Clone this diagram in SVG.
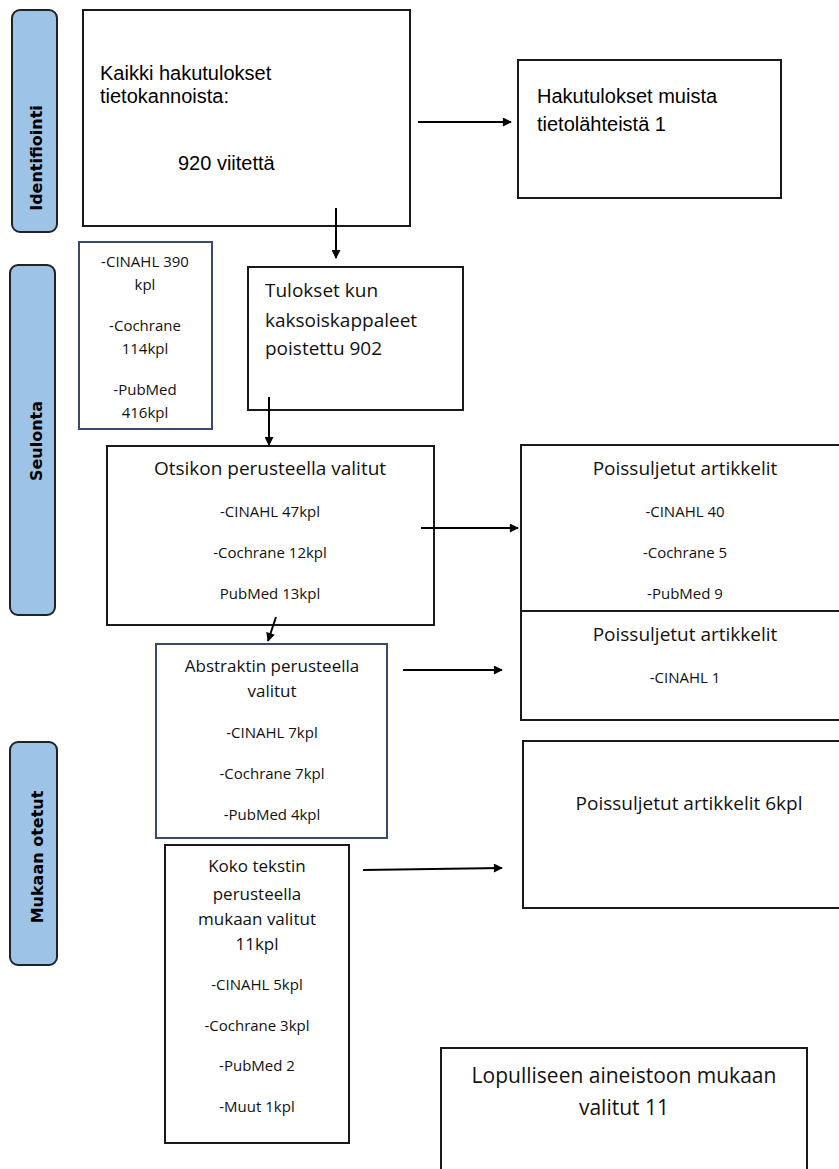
<svg xmlns="http://www.w3.org/2000/svg" width="839" height="1169" viewBox="0 0 839 1169">
<defs>
<marker id="ah" viewBox="0 0 10 10" refX="9" refY="5" markerWidth="5" markerHeight="4.5" orient="auto" markerUnits="strokeWidth"><path d="M0,0 L10,5 L0,10 z" fill="#000"/></marker>
<style>
.box{fill:#fff;stroke:#1a1a1a;stroke-width:2}
.bbox{fill:#fff;stroke:#3b4a66;stroke-width:2}
.lab{fill:#9dc3e6;stroke:#222;stroke-width:2}
.lt{font-family:"DejaVu Sans",sans-serif;font-weight:bold;font-size:16px;fill:#000;text-anchor:middle}
.ar{font-family:"Liberation Sans",Arial,sans-serif;font-size:20px;fill:#000}
.c{font-family:"Open Sans","Noto Sans",sans-serif;fill:#111;text-anchor:middle}
.cl{font-family:"Open Sans","Noto Sans",sans-serif;fill:#111}
.conn{stroke:#000;stroke-width:2;fill:none;marker-end:url(#ah)}
</style>
</defs>
<rect width="839" height="1169" fill="#fff"/>
<g id="label-identifiointi">
<rect class="lab" x="12" y="10" width="45" height="222" rx="8"/>
<text class="lt" transform="translate(42,158) rotate(-90)">Identifiointi</text>
</g>
<g id="label-seulonta">
<rect class="lab" x="10" y="265" width="45" height="350" rx="8"/>
<text class="lt" transform="translate(42,441) rotate(-90)">Seulonta</text>
</g>
<g id="label-mukaan">
<rect class="lab" x="10" y="742" width="47" height="223" rx="8"/>
<text class="lt" transform="translate(43,857) rotate(-90)">Mukaan otetut</text>
</g>
<g id="n-kaikki">
<rect class="box" x="83" y="10" width="327" height="216"/>
<text class="ar" x="100" y="80">Kaikki hakutulokset</text>
<text class="ar" x="100" y="103">tietokannoista:</text>
<text class="ar" x="178" y="170">920 viitettä</text>
</g>
<g id="n-muista">
<rect class="box" x="518" y="60" width="263" height="138"/>
<text class="ar" x="537" y="103">Hakutulokset muista</text>
<text class="ar" x="537" y="131">tietolähteistä 1</text>
</g>
<g id="n-tietokannat">
<rect class="bbox" x="79" y="242" width="133" height="187"/>
<text class="c" font-size="15" x="145" y="267">-CINAHL 390</text>
<text class="c" font-size="15" x="145" y="290">kpl</text>
<text class="c" font-size="15" x="145" y="331">-Cochrane</text>
<text class="c" font-size="15" x="145" y="354">114kpl</text>
<text class="c" font-size="15" x="145" y="395">-PubMed</text>
<text class="c" font-size="15" x="145" y="418">416kpl</text>
</g>
<g id="n-tulokset">
<rect class="box" x="248" y="267" width="215" height="143"/>
<text class="cl" font-size="19" x="265" y="297">Tulokset kun</text>
<text class="cl" font-size="19" x="265" y="327">kaksoiskappaleet</text>
<text class="cl" font-size="19" x="265" y="355">poistettu 902</text>
</g>
<g id="n-otsikon">
<rect class="box" x="107" y="446" width="327" height="179"/>
<text class="c" font-size="19" x="270" y="475">Otsikon perusteella valitut</text>
<text class="c" font-size="15" x="270" y="517">-CINAHL 47kpl</text>
<text class="c" font-size="15" x="270" y="558">-Cochrane 12kpl</text>
<text class="c" font-size="15" x="270" y="599">PubMed 13kpl</text>
</g>
<g id="n-pois1">
<rect class="box" x="521" y="445" width="330" height="166"/>
<text class="c" font-size="19" x="685" y="475">Poissuljetut artikkelit</text>
<text class="c" font-size="15" x="685" y="517">-CINAHL 40</text>
<text class="c" font-size="15" x="685" y="558">-Cochrane 5</text>
<text class="c" font-size="15" x="685" y="599">-PubMed 9</text>
</g>
<g id="n-pois2">
<rect class="box" x="521" y="611" width="330" height="109"/>
<text class="c" font-size="19" x="685" y="641">Poissuljetut artikkelit</text>
<text class="c" font-size="15" x="685" y="683">-CINAHL 1</text>
</g>
<g id="n-abstraktin">
<rect class="bbox" x="156" y="644" width="231" height="194"/>
<text class="c" font-size="17" x="272" y="672">Abstraktin perusteella</text>
<text class="c" font-size="17" x="272" y="697">valitut</text>
<text class="c" font-size="15" x="272" y="738">-CINAHL 7kpl</text>
<text class="c" font-size="15" x="272" y="779">-Cochrane 7kpl</text>
<text class="c" font-size="15" x="272" y="820">-PubMed 4kpl</text>
</g>
<g id="n-pois3">
<rect class="box" x="523" y="741" width="330" height="167"/>
<text class="c" font-size="19" x="689" y="810">Poissuljetut artikkelit 6kpl</text>
</g>
<g id="n-koko">
<rect class="box" x="165" y="845" width="184" height="298"/>
<text class="c" font-size="17" x="257" y="872">Koko tekstin</text>
<text class="c" font-size="17" x="257" y="900">perusteella</text>
<text class="c" font-size="17" x="257" y="925">mukaan valitut</text>
<text class="c" font-size="17" x="257" y="950">11kpl</text>
<text class="c" font-size="15" x="257" y="990">-CINAHL 5kpl</text>
<text class="c" font-size="15" x="257" y="1031">-Cochrane 3kpl</text>
<text class="c" font-size="15" x="257" y="1071">-PubMed 2</text>
<text class="c" font-size="15" x="257" y="1112">-Muut 1kpl</text>
</g>
<g id="n-lopullinen">
<rect class="box" x="441" y="1048" width="366" height="140"/>
<text class="c" font-size="21" x="624" y="1083">Lopulliseen aineistoon mukaan</text>
<text class="c" font-size="21" x="624" y="1115">valitut 11</text>
</g>
<g id="connectors">
<line class="conn" x1="418" y1="122" x2="511" y2="122"/>
<line class="conn" x1="336" y1="208" x2="336" y2="258"/>
<line class="conn" x1="269" y1="397" x2="269" y2="445"/>
<line class="conn" x1="276" y1="617" x2="268" y2="641"/>
<line class="conn" x1="421" y1="528" x2="518" y2="528"/>
<line class="conn" x1="403" y1="670" x2="502" y2="670"/>
<line class="conn" x1="363" y1="870" x2="502" y2="868"/>
</g>
</svg>
